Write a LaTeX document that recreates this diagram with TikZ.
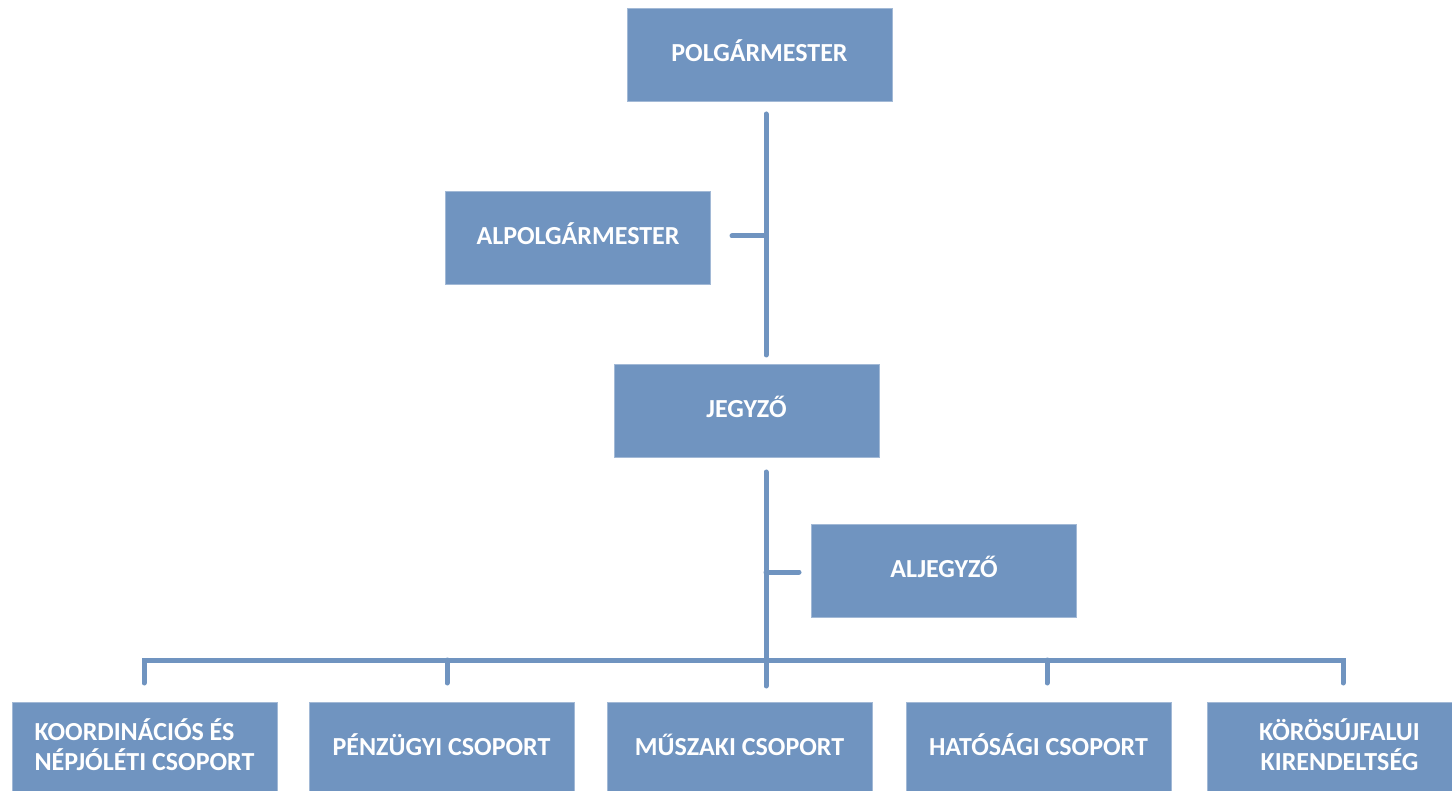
\documentclass[tikz,border=0pt]{standalone}
\usepackage{fontspec}
\setmainfont{Carlito}
\usetikzlibrary{positioning}
\definecolor{boxblue}{RGB}{112,148,192}

\begin{document}
\begin{tikzpicture}[x=1pt,y=-1pt,
			unit/.style={rectangle,fill=boxblue,draw=boxblue!65!white,line width=0.6pt,
				minimum width=265pt,minimum height=93pt,inner sep=0pt,text=white,
				font=\bfseries\fontsize{26}{30}\selectfont,align=center,
				execute at end node={\rule[-8pt]{0pt}{8pt}}},
			link/.style={draw=boxblue,line width=5pt,line cap=round}]
			\useasboundingbox (0,0) rectangle (1452,791);
			
			\node[unit] (polg)     at (759.5,54.5)  {POLGÁRMESTER};
			\node[unit] (alpolg)   at (578,237.5)   {ALPOLGÁRMESTER};
			\node[unit] (jegyzo)   at (746.5,410.5) {JEGYZŐ};
			\node[unit] (aljegyzo) at (944,571)     {ALJEGYZŐ};
			
			\node[unit,align=left] (koord) at (144.5,748.5) {KOORDINÁCIÓS ÉS\\NÉPJÓLÉTI CSOPORT};
			\node[unit] (penz)   at (441.5,748.5)  {PÉNZÜGYI CSOPORT};
			\node[unit] (musz)   at (739.5,748.5)  {MŰSZAKI CSOPORT};
			\node[unit] (hatos)  at (1038.5,748.5) {HATÓSÁGI CSOPORT};
			\node[unit] (korosu) at (1339.5,748.5) {KÖRÖSÚJFALUI\\KIRENDELTSÉG};
			
			\coordinate (t1) at (766,114);
			\coordinate (t2) at (766,355);
			\coordinate (a1) at (732,236);
			\coordinate (t3) at (766,472);
			\coordinate (t4) at (766,686);
			\coordinate (j1) at (799,572);
			\coordinate (bar) at (766,660);
			\coordinate (d1) at (144,683);
			\coordinate (d2) at (447,683);
			\coordinate (d4) at (1047,683);
			\coordinate (d5) at (1343,683);
			
			\draw[link] (t1) -- (t2);
			\draw[link] (a1) -- (a1 -| t1);
			\draw[link] (t3) -- (t4);
			\draw[link] (j1) -- (j1 -| t3);
			\draw[link] (d1) -- (d1 |- bar) -- (d5 |- bar) -- (d5);
			\draw[link] (d2) -- (d2 |- bar);
			\draw[link] (d4) -- (d4 |- bar);
\end{tikzpicture}
\end{document}
